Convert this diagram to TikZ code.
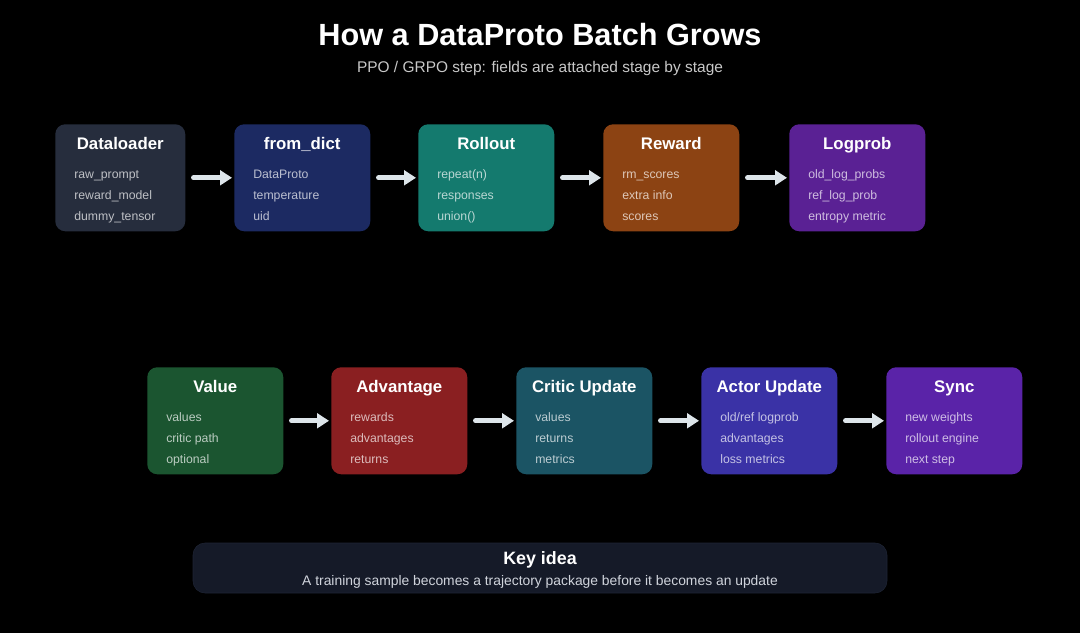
\documentclass[tikz,border=0pt]{standalone}
\usepackage{fontspec}
\setmainfont{Liberation Sans}
\usetikzlibrary{arrows.meta,positioning}
\definecolor{dlfill}{HTML}{262D3D}
\definecolor{fdfill}{HTML}{1C2A62}
\definecolor{rofill}{HTML}{147A6E}
\definecolor{rwfill}{HTML}{8C4313}
\definecolor{lpfill}{HTML}{5A2194}
\definecolor{vafill}{HTML}{1B5530}
\definecolor{adfill}{HTML}{8A1F21}
\definecolor{crfill}{HTML}{1B5464}
\definecolor{acfill}{HTML}{3A32A6}
\definecolor{syfill}{HTML}{5A23A8}
\definecolor{keyfill}{HTML}{151A28}
\definecolor{keyline}{HTML}{1E2434}
\definecolor{arrowgray}{HTML}{DDE5EA}
\definecolor{subgray}{HTML}{C8C8C8}
\definecolor{keytext}{HTML}{D0D4DC}
\tikzset{
    stagebox/.style={rounded corners=7.5pt, minimum height=80.25pt,
        anchor=north west, inner sep=0pt},
    stagetitle/.style={text=white, inner sep=0pt, text height=9.2pt, text depth=2.6pt,
        font=\bfseries\fontsize{12.6}{15}\selectfont},
    stageitem/.style={anchor=west, inner sep=0pt, text height=6.8pt, text depth=2pt,
        font=\fontsize{9.2}{11}\selectfont},
    flowarrow/.style={draw=arrowgray, line width=3.75pt, line cap=round,
        -{Triangle[length=9pt,width=11pt]}},
}
\newcommand\Stage[9][102pt]{%
    \node[stagebox, minimum width=#1, fill=#5] (#2) at (#3,#4) {};
    \node[stagetitle] (#2-title) at ([yshift=-15.8pt]#2.north) {#6};
    \node[stageitem, text=#5!30!white] (#2-a) at ([xshift=14.25pt,yshift=-38.6pt]#2.north west) {#7};
    \node[stageitem, text=#5!30!white] (#2-b) at ([xshift=14.25pt,yshift=-54.4pt]#2.north west) {#8};
    \node[stageitem, text=#5!30!white] (#2-c) at ([xshift=14.25pt,yshift=-70.1pt]#2.north west) {#9};
}
\newcommand\Flow[2]{%
    \draw[flowarrow] ([xshift=6pt]#1.east) -- ([xshift=-1.5pt]#2.west);
}

\begin{document}
\begin{tikzpicture}[x=0.75pt, y=-0.75pt]
    \fill[black] (0,0) rectangle (1080,633);
    \useasboundingbox (0,0) rectangle (1080,633);
    \node[text=white, font=\bfseries\fontsize{23}{27}\selectfont] (title) at (540,35) {How a DataProto Batch Grows};
    \node[text=subgray, font=\fontsize{11.6}{14}\selectfont] (subtitle) at (540,68.5) {PPO / GRPO step: fields are attached stage by stage};
    % first row
    \Stage[97.5pt]{dataloader}{55}{124}{dlfill}{Dataloader}{raw\_prompt}{reward\_model}{dummy\_tensor}
    \Stage{fromdict}{234}{124}{fdfill}{from\_dict}{DataProto}{temperature}{uid}
    \Stage{rollout}{418}{124}{rofill}{Rollout}{repeat(n)}{responses}{union()}
    \Stage{reward}{603}{124}{rwfill}{Reward}{rm\_scores}{extra info}{scores}
    \Stage{logprob}{789}{124}{lpfill}{Logprob}{old\_log\_probs}{ref\_log\_prob}{entropy metric}
    \Flow{dataloader}{fromdict}
    \Flow{fromdict}{rollout}
    \Flow{rollout}{reward}
    \Flow{reward}{logprob}
    % second row
    \Stage{value}{147}{367}{vafill}{Value}{values}{critic path}{optional}
    \Stage{advantage}{331}{367}{adfill}{Advantage}{rewards}{advantages}{returns}
    \Stage{critic}{516}{367}{crfill}{Critic Update}{values}{returns}{metrics}
    \Stage{actor}{701}{367}{acfill}{Actor Update}{old/ref logprob}{advantages}{loss metrics}
    \Stage{sync}{886}{367}{syfill}{Sync}{new weights}{rollout engine}{next step}
    \Flow{value}{advantage}
    \Flow{advantage}{critic}
    \Flow{critic}{actor}
    \Flow{actor}{sync}
    % key idea
    \node[fill=keyfill, draw=keyline, rounded corners=9pt, minimum width=520.5pt, minimum height=37.5pt] (key) at (540,568) {};
    \node[text=white, font=\bfseries\fontsize{13.4}{16}\selectfont] (key-title) at (540,559.5) {Key idea};
    \node[text=keytext, font=\fontsize{10.4}{12}\selectfont] (key-text) at (540,581.5) {A training sample becomes a trajectory package before it becomes an update};
\end{tikzpicture}
\end{document}
